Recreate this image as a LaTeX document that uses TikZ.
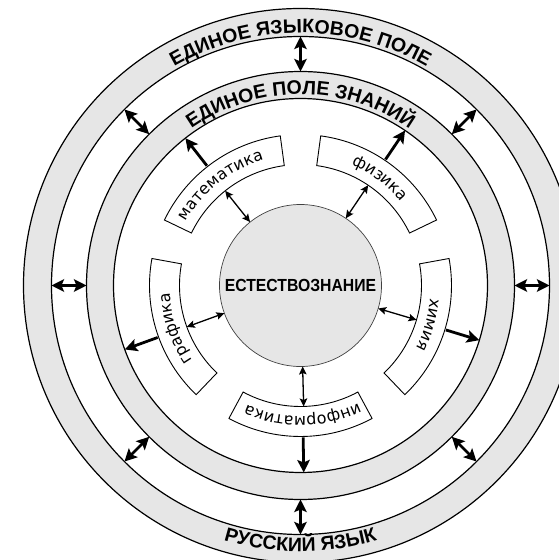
\documentclass[tikz,border=0pt]{standalone}
\usepackage{fontspec}
\setmainfont{DejaVu Sans}
\newfontfamily\capsfont{Liberation Sans}
\usetikzlibrary{arrows.meta,decorations.text}
\definecolor{ringgray}{HTML}{E6E6E6}
\newcommand\ringfont{\capsfont\bfseries\fontsize{19.5}{19.5}\selectfont}
\newcommand\labfont{\fontsize{16}{16}\selectfont}
\tikzset{
  ringline/.style={line width=1.2pt},
  bigdbl/.style={line width=2.8pt, {Stealth[length=12.5pt,width=12.5pt,inset=2.5pt]}-{Stealth[length=12.5pt,width=12.5pt,inset=2.5pt]}},
  bigout/.style={line width=2.8pt, -{Stealth[length=12.5pt,width=12.5pt,inset=2.5pt]}},
  smalldbl/.style={line width=1.3pt, {Stealth[length=8pt,width=7.5pt,inset=1.5pt]}-{Stealth[length=8pt,width=7.5pt,inset=1.5pt]}},
  segbox/.style={fill=white, draw=black, line width=0.9pt},
  arctext/.style={decorate, decoration={text along path, text align=center, text={#1}}}
}
\begin{document}
\begin{tikzpicture}[x=1pt,y=1pt]
\useasboundingbox (-300.5,-274.5) rectangle (258.5,285.5);
\fill[white] (-300.5,-274.5) rectangle (258.5,285.5);
\clip (-300.5,-274.5) rectangle (258.5,285.5);
% rings
\fill[ringgray, even odd rule] (0,0) circle[radius=277] (0,0) circle[radius=249];
\draw[ringline] (0,0) circle[radius=277] (0,0) circle[radius=249];
\fill[ringgray, even odd rule] (0,0) circle[radius=214] (0,0) circle[radius=187];
\draw[ringline] (0,0) circle[radius=214] (0,0) circle[radius=187];
% ring texts
\path[arctext={|\ringfont|ЕДИНОЕ ЯЗЫКОВОЕ ПОЛЕ}] (150:252.5) arc[start angle=150, end angle=30, radius=252.5];
\path[arctext={|\ringfont|ЕДИНОЕ ПОЛЕ ЗНАНИЙ}] (150:191) arc[start angle=150, end angle=30, radius=191];
\path[arctext={|\ringfont|РУССКИЙ ЯЗЫК}] (-130:266) arc[start angle=-130, end angle=-50, radius=266];
% core
\node[circle, minimum size=162pt, inner sep=0pt, fill=ringgray, draw=black!75, line width=0.7pt] (core) at (0,0) {};
\node[font=\capsfont\bfseries\fontsize{17.5}{17.5}\selectfont, inner sep=0pt] (coretext) at (0,0.5) {\scalebox{0.9}[1]{ЕСТЕСТВОЗНАНИЕ}};
% segment boxes
\foreach \c in {126,54,-18,-90,198} {
  \draw[segbox] (\c-28.3:121) arc[start angle=\c-28.3, end angle=\c+28.3, radius=121]
    -- (\c+28.3:151) arc[start angle=\c+28.3, end angle=\c-28.3, radius=151] -- cycle;
}
% labels
\path[arctext={|\labfont|математика}] (178.5:131) arc[start angle=178.5, end angle=78.5, radius=131];
\path[arctext={|\labfont|физика}] (103.5:131) arc[start angle=103.5, end angle=3.5, radius=131];
\path[arctext={|\labfont|химия}] (33:131) arc[start angle=33, end angle=-67, radius=131];
\path[arctext={|\labfont|информатика}] (-39:131) arc[start angle=-39, end angle=-139, radius=131];
\path[arctext={|\labfont|графика}] (249:131) arc[start angle=249, end angle=149, radius=131];
% ring-to-ring double arrows
\foreach \a [count=\i] in {0,45,...,315} {
  \coordinate (ri\i) at (\a:214);
  \coordinate (ro\i) at (\a:249);
  \draw[bigdbl] (ri\i) -- (ro\i);
}
% box-to-ring arrows
\foreach \a [count=\i] in {128,56,-17,-89,200} {
  \coordinate (bs\i) at (\a:152);
  \coordinate (be\i) at (\a:187);
  \draw[bigout] (bs\i) -- (be\i);
}
% core-to-box double arrows
\foreach \a [count=\i] in {128.5,56,-16.5,-88.5,200} {
  \coordinate (cs\i) at (\a:81);
  \coordinate (ce\i) at (\a:121);
  \draw[smalldbl] (cs\i) -- (ce\i);
}
\end{tikzpicture}
\end{document}
